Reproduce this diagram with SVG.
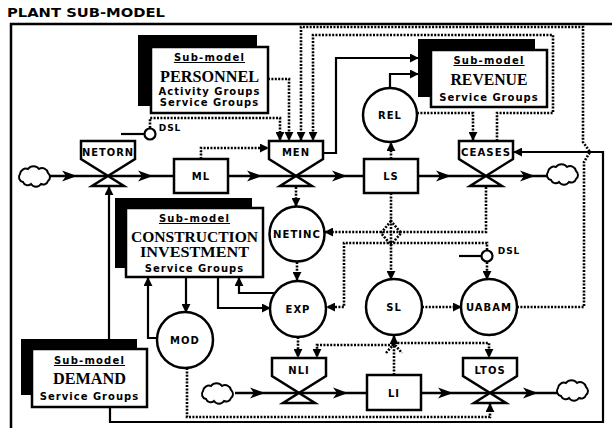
<svg xmlns="http://www.w3.org/2000/svg" width="612" height="428" viewBox="0 0 612 428">
<defs>
<style>
.flow{stroke:#000;stroke-width:2.6;fill:none}
.link{stroke:#000;stroke-width:2.2;fill:none}
.dot{stroke:#000;stroke-width:2.6;stroke-dasharray:2 1.4;fill:none}
.node{fill:#fff;stroke:#000;stroke-width:2.5}
.sh{fill:#000}
.lbl{font-family:"DejaVu Sans",sans-serif;font-weight:bold;font-size:10px;letter-spacing:1px;text-anchor:middle}
.sub{font-family:"DejaVu Sans",sans-serif;font-weight:bold;font-size:10px;letter-spacing:1.2px;text-anchor:middle;text-decoration:underline}
.grp{font-family:"DejaVu Sans",sans-serif;font-weight:bold;font-size:10px;letter-spacing:1px;text-anchor:middle}
.big{font-family:"Liberation Serif",serif;font-weight:bold;font-size:17px;text-anchor:middle}
.big2{font-family:"Liberation Serif",serif;font-weight:bold;font-size:15px;text-anchor:middle}
.ttl{font-family:"DejaVu Sans",sans-serif;font-weight:bold;font-size:12px}
.ah{fill:#000}
</style>
<marker id="ah" viewBox="0 0 10 10" refX="9" refY="5" markerWidth="9" markerHeight="9" markerUnits="userSpaceOnUse" orient="auto"><path d="M0,0L10,5L0,10z" fill="#000"/></marker>
<path id="cloud" d="M-12,6 a5,5 0 0 1 -3,-8 a6,6 0 0 1 8,-5 a7,7 0 0 1 11,0 a6,6 0 0 1 9,4 a5,5 0 0 1 0,8 a5,5 0 0 1 -7,3 a6,6 0 0 1 -10,0 a5,5 0 0 1 -8,-2 Z" fill="#fff" stroke="#000" stroke-width="2"/>
</defs>
<rect x="0" y="0" width="612" height="428" fill="#fff"/>
<text class="ttl" x="7" y="17" textLength="158" lengthAdjust="spacingAndGlyphs">PLANT SUB-MODEL</text>
<rect x="11" y="24" width="610" height="420" fill="none" stroke="#000" stroke-width="2.5"/>

<g id="connectors">
  <!-- flows -->
  <path class="flow" d="M50,176H174M228,176H364M418,176H548"/>
  <path class="flow" d="M235,393H367M421,393H557"/>
  <g class="ah">
    <polygon points="77,176 62,170.5 66,176 62,181.5"/>
    <polygon points="153,176 138,170.5 142,176 138,181.5"/>
    <polygon points="262,176 247,170.5 251,176 247,181.5"/>
    <polygon points="347,176 332,170.5 336,176 332,181.5"/>
    <polygon points="451,176 436,170.5 440,176 436,181.5"/>
    <polygon points="535,176 520,170.5 524,176 520,181.5"/>
    <polygon points="265,393 250,387.5 254,393 250,398.5"/>
    <polygon points="348,393 333,387.5 337,393 333,398.5"/>
    <polygon points="453,393 438,387.5 442,393 438,398.5"/>
    <polygon points="538,393 523,387.5 527,393 523,398.5"/>
  </g>
  <!-- solid links -->
  <path class="link" d="M323,153H336V58H418" marker-end="url(#ah)"/>
  <path class="link" d="M390,88V74H418" marker-end="url(#ah)"/>
  <path class="link" d="M109,339V187" marker-end="url(#ah)"/>
  <path class="link" d="M110,407V422H603V152H514" marker-end="url(#ah)"/>
  <path class="link" d="M157,338H148V278" marker-end="url(#ah)"/>
  <path class="link" d="M186,277V312" marker-end="url(#ah)"/>
  <path class="link" d="M218,277V308H270" marker-end="url(#ah)"/>
  <path class="link" d="M274,293H239V278" marker-end="url(#ah)"/>
  <!-- dotted links -->
  <path class="dot" d="M150,128V118H280V140" marker-end="url(#ah)"/>
  <path class="dot" d="M268,79H289V140" marker-end="url(#ah)"/>
  <path class="dot" d="M517,307H584V162L590,152L583,142V27H301V140" marker-end="url(#ah)"/>
  <path class="dot" d="M497,141V113H553V35H313V140" marker-end="url(#ah)"/>
  <path class="dot" d="M201,159V148H268" marker-end="url(#ah)"/>
  <path class="dot" d="M417,113H473V140" marker-end="url(#ah)"/>
  <path class="dot" d="M391,159V143" marker-end="url(#ah)"/>
  <path class="dot" d="M296,187V206" marker-end="url(#ah)"/>
  <path class="dot" d="M486,187V232H325" marker-end="url(#ah)"/>
  <path class="dot" d="M391,193V279" marker-end="url(#ah)"/>
  <path class="dot" d="M391,221L381,233L391,245L401,233Z"/>
  <path class="dot" d="M487,250V243H344V307H327" marker-end="url(#ah)"/>
  <path class="dot" d="M487,262V279" marker-end="url(#ah)"/>
  <path class="dot" d="M297,262V280" marker-end="url(#ah)"/>
  <path class="dot" d="M422,307H461" marker-end="url(#ah)"/>
  <path class="dot" d="M298,337V357" marker-end="url(#ah)"/>
  <path class="dot" d="M394,375V345H317V357" marker-end="url(#ah)"/>
  <path class="dot" d="M394,345V336" marker-end="url(#ah)"/>
  <path class="dot" d="M386,353L394,344L402,353"/>
  <path class="dot" d="M394,343H489V357" marker-end="url(#ah)"/>
  <path class="dot" d="M187,368V417H490V404" marker-end="url(#ah)"/>
</g>

<g id="cloud1"><use href="#cloud" x="35" y="176"/></g>
<g id="cloud2"><use href="#cloud" x="563" y="174"/></g>
<g id="cloud3"><use href="#cloud" x="218" y="393"/></g>
<g id="cloud4"><use href="#cloud" x="573" y="390"/></g>

<g id="personnel">
  <rect class="sh" x="138" y="35" width="119" height="71"/>
  <rect class="node" x="151" y="47" width="117" height="66"/>
  <text class="sub" x="209.5" y="61">Sub-model</text>
  <text class="big" x="209.5" y="82" textLength="99" lengthAdjust="spacingAndGlyphs">PERSONNEL</text>
  <text class="grp" x="209.5" y="95">Activity Groups</text>
  <text class="grp" x="209.5" y="106">Service Groups</text>
</g>
<g id="revenue">
  <rect class="sh" x="418" y="39" width="117" height="58"/>
  <rect class="node" x="431" y="50" width="116" height="57"/>
  <text class="sub" x="489" y="64">Sub-model</text>
  <text class="big" x="489" y="85" textLength="77" lengthAdjust="spacingAndGlyphs">REVENUE</text>
  <text class="grp" x="489" y="101">Service Groups</text>
</g>
<g id="construction">
  <rect class="sh" x="115" y="198" width="137" height="70"/>
  <rect class="node" x="126" y="208" width="137" height="69"/>
  <text class="sub" x="194.5" y="222">Sub-model</text>
  <text class="big2" x="194.5" y="242" textLength="127" lengthAdjust="spacingAndGlyphs">CONSTRUCTION</text>
  <text class="big2" x="194.5" y="257" textLength="109" lengthAdjust="spacingAndGlyphs">INVESTMENT</text>
  <text class="grp" x="194.5" y="272">Service Groups</text>
</g>
<g id="demand">
  <rect class="sh" x="21" y="339" width="116" height="56"/>
  <rect class="node" x="32" y="349" width="115" height="58"/>
  <text class="sub" x="89.5" y="364">Sub-model</text>
  <text class="big" x="89.5" y="384" textLength="73" lengthAdjust="spacingAndGlyphs">DEMAND</text>
  <text class="grp" x="89.5" y="400">Service Groups</text>
</g>

<g id="netorn">
  <path class="node" d="M81,141H135V159L92,186H124L81,159Z"/>
  <text class="lbl" x="108" y="156" textLength="52" lengthAdjust="spacingAndGlyphs">NETORN</text>
</g>
<g id="ml">
  <rect class="node" x="174" y="159" width="54" height="34"/>
  <text class="lbl" x="201" y="180">ML</text>
</g>
<g id="men">
  <path class="node" d="M269,141H323V159L280,186H312L269,159Z"/>
  <text class="lbl" x="296" y="156">MEN</text>
</g>
<g id="ls">
  <rect class="node" x="364" y="159" width="54" height="34"/>
  <text class="lbl" x="391" y="180">LS</text>
</g>
<g id="ceases">
  <path class="node" d="M459,141H513V159L470,186H502L459,159Z"/>
  <text class="lbl" x="486" y="156" textLength="50" lengthAdjust="spacingAndGlyphs">CEASES</text>
</g>
<g id="rel">
  <circle class="node" cx="390" cy="115" r="27"/>
  <text class="lbl" x="390" y="119">REL</text>
</g>
<g id="dsl1">
  <line x1="121" y1="134" x2="144.5" y2="134" stroke="#000" stroke-width="2.2"/>
  <circle cx="150" cy="134" r="5.5" fill="#fff" stroke="#000" stroke-width="2.2"/>
  <text class="lbl" x="170" y="131" style="font-size:9px">DSL</text>
</g>
<g id="netinc">
  <circle class="node" cx="297" cy="234" r="27.5"/>
  <text class="lbl" x="297" y="238" textLength="48" lengthAdjust="spacingAndGlyphs">NETINC</text>
</g>
<g id="dsl2">
  <line x1="459" y1="256" x2="481.5" y2="256" stroke="#000" stroke-width="2.2"/>
  <circle cx="487" cy="256" r="5.5" fill="#fff" stroke="#000" stroke-width="2.2"/>
  <text class="lbl" x="509" y="254" style="font-size:9px">DSL</text>
</g>
<g id="exp">
  <circle class="node" cx="298" cy="309" r="28"/>
  <text class="lbl" x="298" y="313">EXP</text>
</g>
<g id="sl">
  <circle class="node" cx="394" cy="307" r="28"/>
  <text class="lbl" x="394" y="311">SL</text>
</g>
<g id="uabam">
  <circle class="node" cx="489" cy="307" r="28"/>
  <text class="lbl" x="489" y="311" textLength="46" lengthAdjust="spacingAndGlyphs">UABAM</text>
</g>
<g id="mod">
  <circle class="node" cx="185" cy="340" r="28"/>
  <text class="lbl" x="185" y="344">MOD</text>
</g>
<g id="nli">
  <path class="node" d="M272,358H326V376L283,403H315L272,376Z"/>
  <text class="lbl" x="299" y="374">NLI</text>
</g>
<g id="li">
  <rect class="node" x="367" y="375" width="54" height="35"/>
  <text class="lbl" x="394" y="397">LI</text>
</g>
<g id="ltos">
  <path class="node" d="M463,358H517V376L474,403H506L463,376Z"/>
  <text class="lbl" x="490" y="374">LTOS</text>
</g>
</svg>
